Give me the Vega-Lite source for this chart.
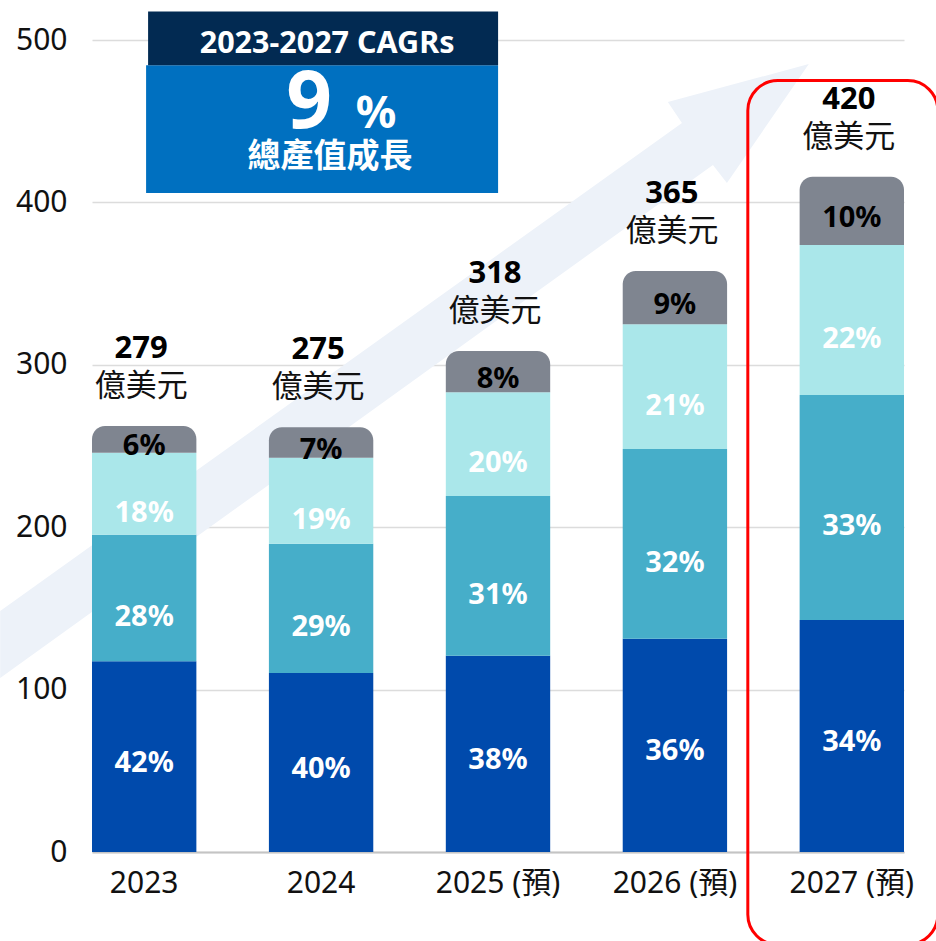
{
  "$schema": "https://vega.github.io/schema/vega-lite/v6.json",
  "width": 812,
  "height": 812,
  "autosize": {"type": "none"},
  "padding": {"left": 92, "top": 40, "right": 32, "bottom": 89},
  "background": "white",
  "config": {
    "view": {"stroke": null},
    "font": "Noto Sans, Noto Sans CJK TC",
    "scale": {"bandPaddingInner": 0.41, "bandPaddingOuter": 0}
  },
  "datasets": {
    "segments": [
      {"year": "2023", "seg": 1, "value": 117.4, "pct": "42%"},
      {"year": "2023", "seg": 2, "value": 78.0, "pct": "28%"},
      {"year": "2023", "seg": 3, "value": 50.5, "pct": "18%"},
      {"year": "2023", "seg": 4, "value": 16.4, "pct": "6%"},
      {"year": "2024", "seg": 1, "value": 110.2, "pct": "40%"},
      {"year": "2024", "seg": 2, "value": 79.6, "pct": "29%"},
      {"year": "2024", "seg": 3, "value": 53.0, "pct": "19%"},
      {"year": "2024", "seg": 4, "value": 18.7, "pct": "7%"},
      {"year": "2025 (預)", "seg": 1, "value": 120.9, "pct": "38%"},
      {"year": "2025 (預)", "seg": 2, "value": 98.3, "pct": "31%"},
      {"year": "2025 (預)", "seg": 3, "value": 63.9, "pct": "20%"},
      {"year": "2025 (預)", "seg": 4, "value": 25.4, "pct": "8%"},
      {"year": "2026 (預)", "seg": 1, "value": 131.3, "pct": "36%"},
      {"year": "2026 (預)", "seg": 2, "value": 116.9, "pct": "32%"},
      {"year": "2026 (預)", "seg": 3, "value": 76.7, "pct": "21%"},
      {"year": "2026 (預)", "seg": 4, "value": 32.9, "pct": "9%"},
      {"year": "2027 (預)", "seg": 1, "value": 142.9, "pct": "34%"},
      {"year": "2027 (預)", "seg": 2, "value": 138.5, "pct": "33%"},
      {"year": "2027 (預)", "seg": 3, "value": 92.4, "pct": "22%"},
      {"year": "2027 (預)", "seg": 4, "value": 42.0, "pct": "10%"}
    ],
    "totals": [
      {"year": "2023", "total": "279"},
      {"year": "2024", "total": "275"},
      {"year": "2025 (預)", "total": "318"},
      {"year": "2026 (預)", "total": "365"},
      {"year": "2027 (預)", "total": "420"}
    ],
    "arrow": [
      {"k": 1, "ix": -0.814, "v": 148.4},
      {"k": 2, "ix": 3.040, "v": 448.9},
      {"k": 3, "ix": 2.960, "v": 461.8},
      {"k": 4, "ix": 3.757, "v": 485.2},
      {"k": 5, "ix": 3.294, "v": 411.9},
      {"k": 6, "ix": 3.215, "v": 423.0},
      {"k": 7, "ix": -0.814, "v": 107.1}
    ]
  },
  "resolve": {"scale": {"x": "independent"}},
  "layer": [
    {
      "data": {"name": "arrow"},
      "mark": {"type": "line", "filled": true, "fill": "#EDF2F9", "stroke": null, "strokeWidth": 0},
      "encoding": {
        "x": {"field": "ix", "type": "quantitative", "scale": {"domain": [-0.295, 4.295], "nice": false, "zero": false}, "axis": null},
        "y": {
          "field": "v", "type": "quantitative", "scale": {"domain": [0, 500], "nice": false},
          "axis": {"title": null, "values": [0, 100, 200, 300, 400, 500], "labelFontSize": 30, "labelColor": "#111111", "labelPadding": 25, "ticks": false, "domain": false, "grid": true, "gridColor": "#DCDCDC", "gridWidth": 1.5, "labelFont": "Noto Sans"}
        },
        "order": {"field": "k", "type": "quantitative"}
      }
    },
    {
      "layer": [
        {
          "data": {"name": "segments"},
          "transform": [
            {"stack": "value", "groupby": ["year"], "sort": [{"field": "seg", "order": "ascending"}], "as": ["v0", "v1"]},
            {"filter": "datum.seg < 4"}
          ],
          "mark": {"type": "bar"},
          "encoding": {
            "x": {
              "field": "year", "type": "nominal",
              "axis": {"title": null, "labelAngle": 0, "labelFontSize": 30, "labelColor": "#111111", "labelPadding": 16, "ticks": false, "domain": true, "domainColor": "#C4C4C4", "domainWidth": 2, "grid": false, "labelFont": "Noto Sans, Noto Sans CJK TC"}
            },
            "y": {
              "field": "v1", "type": "quantitative",
              "scale": {"domain": [0, 500], "nice": false},
              "axis": {"title": null, "values": [0, 100, 200, 300, 400, 500], "labelFontSize": 30, "labelColor": "#111111", "labelPadding": 25, "ticks": false, "domain": false, "grid": true, "gridColor": "#DCDCDC", "gridWidth": 1.5, "labelFont": "Noto Sans"}
            },
            "y2": {"field": "v0"},
            "color": {"field": "seg", "type": "nominal", "scale": {"domain": [1, 2, 3, 4], "range": ["#004AAC", "#46AEC9", "#AAE7EA", "#7F8590"]}, "legend": null}
          }
        },
        {
          "data": {"name": "segments"},
          "transform": [
            {"stack": "value", "groupby": ["year"], "sort": [{"field": "seg", "order": "ascending"}], "as": ["v0", "v1"]},
            {"filter": "datum.seg == 4"}
          ],
          "mark": {"type": "bar", "color": "#7F8590", "cornerRadiusTopLeft": 13, "cornerRadiusTopRight": 13},
          "encoding": {
            "x": {"field": "year", "type": "nominal"},
            "y": {"field": "v1", "type": "quantitative", "scale": {"domain": [0, 500], "nice": false}},
            "y2": {"field": "v0"}
          }
        },
        {
          "data": {"name": "segments"},
          "transform": [
            {"stack": "value", "groupby": ["year"], "sort": [{"field": "seg", "order": "ascending"}], "as": ["v0", "v1"]},
            {"filter": "datum.seg == 1"},
            {"calculate": "(datum.v0 + datum.v1) / 2", "as": "mid"}
          ],
          "mark": {"type": "text", "color": "white", "fontWeight": "bold", "fontSize": 29, "baseline": "middle", "dy": 6},
          "encoding": {
            "x": {"field": "year", "type": "nominal"},
            "y": {"field": "mid", "type": "quantitative", "scale": {"domain": [0, 500], "nice": false}},
            "text": {"field": "pct"}
          }
        },
        {
          "data": {"name": "segments"},
          "transform": [
            {"stack": "value", "groupby": ["year"], "sort": [{"field": "seg", "order": "ascending"}], "as": ["v0", "v1"]},
            {"filter": "datum.seg == 2 || datum.seg == 3"},
            {"calculate": "(datum.v0 + datum.v1) / 2", "as": "mid"}
          ],
          "mark": {"type": "text", "color": "white", "fontWeight": "bold", "fontSize": 29, "baseline": "middle", "dy": 19},
          "encoding": {
            "x": {"field": "year", "type": "nominal"},
            "y": {"field": "mid", "type": "quantitative", "scale": {"domain": [0, 500], "nice": false}},
            "text": {"field": "pct"}
          }
        },
        {
          "data": {"name": "segments"},
          "transform": [
            {"stack": "value", "groupby": ["year"], "sort": [{"field": "seg", "order": "ascending"}], "as": ["v0", "v1"]},
            {"filter": "datum.seg == 4"},
            {"calculate": "(datum.v0 + datum.v1) / 2", "as": "mid"}
          ],
          "mark": {"type": "text", "color": "black", "fontWeight": "bold", "fontSize": 29, "baseline": "middle", "dy": 7},
          "encoding": {
            "x": {"field": "year", "type": "nominal"},
            "y": {"field": "mid", "type": "quantitative", "scale": {"domain": [0, 500], "nice": false}},
            "text": {"field": "pct"}
          }
        },
        {
          "data": {"name": "segments"},
          "transform": [
            {"aggregate": [{"op": "sum", "field": "value", "as": "top"}], "groupby": ["year"]},
            {"lookup": "year", "from": {"data": {"name": "totals"}, "key": "year", "fields": ["total"]}}
          ],
          "mark": {"type": "text", "color": "black", "fontWeight": "bold", "fontSize": 31, "baseline": "middle", "dy": -77, "dx": -3},
          "encoding": {
            "x": {"field": "year", "type": "nominal"},
            "y": {"field": "top", "type": "quantitative", "scale": {"domain": [0, 500], "nice": false}},
            "text": {"field": "total"}
          }
        },
        {
          "data": {"name": "segments"},
          "transform": [
            {"aggregate": [{"op": "sum", "field": "value", "as": "top"}], "groupby": ["year"]}
          ],
          "mark": {"type": "text", "color": "#111111", "fontSize": 31, "baseline": "middle", "dy": -39, "dx": -3, "font": "Noto Sans CJK TC", "text": "億美元"},
          "encoding": {
            "x": {"field": "year", "type": "nominal"},
            "y": {"field": "top", "type": "quantitative", "scale": {"domain": [0, 500], "nice": false}}
          }
        },
        {
          "data": {"values": [{}]},
          "mark": {"type": "bar", "width": 190, "xOffset": -9, "cornerRadius": 30, "filled": false, "stroke": "#FF0000", "strokeWidth": 3},
          "encoding": {
            "x": {"datum": "2027 (預)", "type": "nominal"},
            "y": {"datum": 475, "type": "quantitative", "scale": {"domain": [0, 500], "nice": false}},
            "y2": {"datum": -57}
          }
        },
        {
          "data": {"values": [{}]},
          "mark": {"type": "bar", "width": 352, "xOffset": 1, "color": "#0070C0"},
          "encoding": {
            "x": {"datum": "2024", "type": "nominal"},
            "y": {"datum": 484.5, "type": "quantitative", "scale": {"domain": [0, 500], "nice": false}},
            "y2": {"datum": 405.8}
          }
        },
        {
          "data": {"values": [{}]},
          "mark": {"type": "bar", "width": 350, "xOffset": 2, "color": "#022A52"},
          "encoding": {
            "x": {"datum": "2024", "type": "nominal"},
            "y": {"datum": 517.5, "type": "quantitative", "scale": {"domain": [0, 500], "nice": false}},
            "y2": {"datum": 484.5}
          }
        },
        {
          "data": {"values": [{}]},
          "mark": {"type": "text", "color": "white", "fontWeight": "bold", "fontSize": 30.5, "baseline": "alphabetic", "align": "center", "dx": 6, "text": "2023-2027 CAGRs"},
          "encoding": {
            "x": {"datum": "2024", "type": "nominal"},
            "y": {"datum": 492, "type": "quantitative", "scale": {"domain": [0, 500], "nice": false}}
          }
        },
        {
          "data": {"values": [{}]},
          "mark": {"type": "text", "color": "white", "fontWeight": "bold", "fontSize": 80, "baseline": "alphabetic", "align": "center", "dx": -12, "text": "9"},
          "encoding": {
            "x": {"datum": "2024", "type": "nominal"},
            "y": {"datum": 445.8, "type": "quantitative", "scale": {"domain": [0, 500], "nice": false}}
          }
        },
        {
          "data": {"values": [{}]},
          "mark": {"type": "text", "color": "white", "fontWeight": "bold", "fontSize": 45, "baseline": "alphabetic", "align": "center", "dx": 55, "text": "%"},
          "encoding": {
            "x": {"datum": "2024", "type": "nominal"},
            "y": {"datum": 445.8, "type": "quantitative", "scale": {"domain": [0, 500], "nice": false}}
          }
        },
        {
          "data": {"values": [{}]},
          "mark": {"type": "text", "color": "white", "fontWeight": "bold", "fontSize": 33, "baseline": "middle", "align": "center", "dx": 9, "font": "Noto Sans CJK TC", "text": "總產值成長"},
          "encoding": {
            "x": {"datum": "2024", "type": "nominal"},
            "y": {"datum": 428, "type": "quantitative", "scale": {"domain": [0, 500], "nice": false}}
          }
        }
      ]
    }
  ]
}
